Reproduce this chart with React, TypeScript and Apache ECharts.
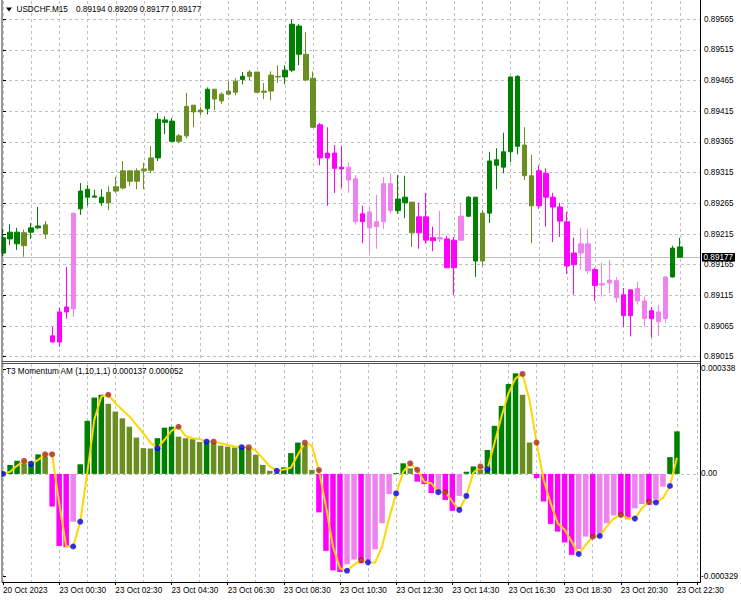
import React, { useEffect, useRef } from 'react';
import * as echarts from 'echarts';

const tickLabels = [
  '20 Oct 2023', '23 Oct 00:30', '23 Oct 02:30', '23 Oct 04:30', '23 Oct 06:30', '23 Oct 08:30',
  '23 Oct 10:30', '23 Oct 12:30', '23 Oct 14:30', '23 Oct 16:30', '23 Oct 18:30', '23 Oct 20:30', '23 Oct 22:30',
];
const priceTicks = [0.89015, 0.89065, 0.89115, 0.89165, 0.89215, 0.89265, 0.89315, 0.89365, 0.89415, 0.89465, 0.89515, 0.89565];
const momTicks = [-0.000329, 0, 0.000338];
const lastPrice = 0.89177;

const open = [
  0.89184, 0.89207, 0.89218, 0.89196, 0.89218, 0.89225, 0.89230, 0.89049, 0.89039, 0.89088,
  0.89093, 0.89256, 0.89288, 0.89275, 0.89275, 0.89266, 0.89285, 0.89290, 0.89318, 0.89301,
  0.89318, 0.89319, 0.89339, 0.89401, 0.89399, 0.89366, 0.89375, 0.89425, 0.89414, 0.89419,
  0.89451, 0.89432, 0.89443, 0.89446, 0.89467, 0.89472, 0.89479, 0.89446, 0.89448, 0.89472,
  0.89471, 0.89482, 0.89554, 0.89508, 0.89469, 0.89393, 0.89339, 0.89347, 0.89321, 0.89324,
  0.89305, 0.89235, 0.89251, 0.89227, 0.89235, 0.89297, 0.89253, 0.89266, 0.89267, 0.89217,
  0.89243, 0.89204, 0.89209, 0.89207, 0.89160, 0.89205, 0.89244, 0.89275, 0.89171, 0.89249,
  0.89327, 0.89324, 0.89349, 0.89472, 0.89360, 0.89310, 0.89261, 0.89314, 0.89275, 0.89259,
  0.89235, 0.89165, 0.89184, 0.89199, 0.89157, 0.89132, 0.89135, 0.89139, 0.89116, 0.89082,
  0.89126, 0.89106, 0.89077, 0.89088, 0.89077, 0.89145, 0.89194,
];
const close = [
  0.89209, 0.89218, 0.89199, 0.89217, 0.89225, 0.89228, 0.89215, 0.89039, 0.89088, 0.89096,
  0.89249, 0.89285, 0.89275, 0.89277, 0.89266, 0.89283, 0.89292, 0.89318, 0.89301, 0.89318,
  0.89321, 0.89339, 0.89402, 0.89397, 0.89366, 0.89375, 0.89423, 0.89414, 0.89417, 0.89451,
  0.89435, 0.89443, 0.89448, 0.89464, 0.89472, 0.89479, 0.89446, 0.89448, 0.89474, 0.89471,
  0.89482, 0.89557, 0.89508, 0.89466, 0.89389, 0.89339, 0.89347, 0.89322, 0.89324, 0.89303,
  0.89235, 0.89248, 0.89225, 0.89235, 0.89297, 0.89253, 0.89272, 0.89275, 0.89217, 0.89243,
  0.89205, 0.89209, 0.89207, 0.89160, 0.89205, 0.89244, 0.89275, 0.89171, 0.89249, 0.89334,
  0.89336, 0.89349, 0.89471, 0.89358, 0.89310, 0.89261, 0.89318, 0.89275, 0.89259, 0.89236,
  0.89163, 0.89184, 0.89199, 0.89155, 0.89131, 0.89134, 0.89140, 0.89111, 0.89082, 0.89124,
  0.89106, 0.89077, 0.89090, 0.89072, 0.89145, 0.89192, 0.89177,
];
const low = [
  0.89179, 0.89197, 0.89189, 0.89178, 0.89207, 0.89223, 0.89207, 0.89038, 0.89031, 0.89077,
  0.89080, 0.89246, 0.89261, 0.89275, 0.89261, 0.89254, 0.89282, 0.89288, 0.89293, 0.89288,
  0.89288, 0.89314, 0.89334, 0.89378, 0.89365, 0.89363, 0.89371, 0.89389, 0.89409, 0.89410,
  0.89417, 0.89427, 0.89441, 0.89441, 0.89459, 0.89466, 0.89445, 0.89435, 0.89433, 0.89461,
  0.89459, 0.89479, 0.89490, 0.89464, 0.89388, 0.89327, 0.89261, 0.89282, 0.89290, 0.89282,
  0.89230, 0.89200, 0.89184, 0.89191, 0.89223, 0.89248, 0.89248, 0.89241, 0.89194, 0.89191,
  0.89200, 0.89187, 0.89202, 0.89160, 0.89116, 0.89205, 0.89243, 0.89145, 0.89163, 0.89233,
  0.89288, 0.89314, 0.89332, 0.89345, 0.89303, 0.89200, 0.89256, 0.89227, 0.89202, 0.89210,
  0.89150, 0.89116, 0.89157, 0.89150, 0.89106, 0.89113, 0.89119, 0.89103, 0.89064, 0.89048,
  0.89100, 0.89064, 0.89046, 0.89049, 0.89070, 0.89144, 0.89177,
];
const high = [
  0.89223, 0.89231, 0.89225, 0.89222, 0.89233, 0.89259, 0.89236, 0.89064, 0.89095, 0.89161,
  0.89249, 0.89298, 0.89295, 0.89287, 0.89288, 0.89293, 0.89308, 0.89334, 0.89318, 0.89322,
  0.89331, 0.89358, 0.89412, 0.89407, 0.89404, 0.89378, 0.89445, 0.89425, 0.89422, 0.89454,
  0.89451, 0.89446, 0.89464, 0.89469, 0.89479, 0.89482, 0.89479, 0.89461, 0.89480, 0.89490,
  0.89490, 0.89565, 0.89557, 0.89544, 0.89480, 0.89396, 0.89389, 0.89360, 0.89358, 0.89332,
  0.89311, 0.89261, 0.89259, 0.89279, 0.89308, 0.89314, 0.89311, 0.89310, 0.89267, 0.89266,
  0.89282, 0.89227, 0.89253, 0.89212, 0.89210, 0.89266, 0.89277, 0.89275, 0.89254, 0.89349,
  0.89355, 0.89380, 0.89471, 0.89474, 0.89389, 0.89344, 0.89327, 0.89322, 0.89282, 0.89266,
  0.89251, 0.89209, 0.89225, 0.89223, 0.89160, 0.89168, 0.89173, 0.89145, 0.89127, 0.89124,
  0.89137, 0.89113, 0.89096, 0.89100, 0.89145, 0.89196, 0.89209,
];
const hist = [
  0.000005, 0.000029, 0.000042, 0.000034, 0.000040, 0.000063, 0.000056, -0.000105, -0.000232, -0.000236,
  -0.000154, 0.000031, 0.000171, 0.000246, 0.000255, 0.000226, 0.000201, 0.000179, 0.000152, 0.000117,
  0.000083, 0.000082, 0.000115, 0.000149, 0.000152, 0.000120, 0.000115, 0.000112, 0.000103, 0.000107,
  0.000100, 0.000091, 0.000088, 0.000085, 0.000088, 0.000087, 0.000062, 0.000029, 0.000010, 0.000004,
  0.000021, 0.000067, 0.000101, 0.000097, 0.000013, -0.000124, -0.000248, -0.000311, -0.000316, -0.000291,
  -0.000276, -0.000288, -0.000278, -0.000243, -0.000159, -0.000065, 0.000003, 0.000034, 0.000018, -0.000025,
  -0.000033, -0.000062, -0.000057, -0.000084, -0.000119, -0.000071, 0.000007, 0.000024, 0.000014, 0.000077,
  0.000155, 0.000219, 0.000290, 0.000324, 0.000255, 0.000101, -0.000014, -0.000089, -0.000161, -0.000186,
  -0.000221, -0.000261, -0.000242, -0.000202, -0.000207, -0.000191, -0.000159, -0.000134, -0.000138, -0.000146,
  -0.000111, -0.000097, -0.000100, -0.000082, -0.000041, 0.000054, 0.000137,
];
const signal = [
  0.000000, 0.000007, 0.000026, 0.000042, 0.000032, 0.000045, 0.000063, 0.000063, -0.000094, -0.000234,
  -0.000234, -0.000154, 0.000002, 0.000174, 0.000249, 0.000255, 0.000228, 0.000206, 0.000185, 0.000158,
  0.000131, 0.000101, 0.000083, 0.000110, 0.000139, 0.000152, 0.000122, 0.000115, 0.000112, 0.000104,
  0.000104, 0.000099, 0.000093, 0.000088, 0.000086, 0.000086, 0.000075, 0.000050, 0.000024, 0.000010,
  0.000014, 0.000020, 0.000062, 0.000101, 0.000090, 0.000012, -0.000105, -0.000234, -0.000304, -0.000312,
  -0.000293, -0.000277, -0.000285, -0.000286, -0.000234, -0.000143, -0.000063, 0.000007, 0.000034, 0.000013,
  -0.000025, -0.000030, -0.000059, -0.000059, -0.000089, -0.000116, -0.000071, 0.000004, 0.000024, 0.000015,
  0.000099, 0.000185, 0.000260, 0.000308, 0.000322, 0.000238, 0.000101, -0.000019, -0.000094, -0.000159,
  -0.000180, -0.000218, -0.000258, -0.000229, -0.000202, -0.000200, -0.000170, -0.000143, -0.000132, -0.000143,
  -0.000144, -0.000111, -0.000089, -0.000092, -0.000078, -0.000039, 0.000052,
];
const redDots = [3, 6, 7, 15, 25, 30, 35, 43, 45, 51, 58, 59, 63, 68, 74, 76, 84, 88, 92];
const blueDots = [0, 4, 10, 11, 22, 29, 34, 39, 49, 52, 56, 62, 65, 66, 69, 82, 85, 90, 93, 95];

const GREEN = '#008000';
const OLIVE = '#6B8E23';
const MAGENTA = '#FF00FF';
const VIOLET = '#EE82EE';
const FONT = 'Liberation Sans';
const FS = 8.2;

const X_MAX = 98.87;

function colorAt(i: number): string {
  const v = hist[i];
  const p = i > 0 ? hist[i - 1] : v;
  if (v >= 0) return v >= p ? GREEN : OLIVE;
  return v < p ? MAGENTA : VIOLET;
}

const dashed = { color: '#C0C0C0', width: 1, type: [3, 3] as any };

function gLine(id: string, x1: number, y1: number, x2: number, y2: number, stroke: string, z = 20) {
  return {
    id, type: 'line', z, silent: true,
    shape: { x1, y1, x2, y2 }, style: { stroke, lineWidth: 1 },
  };
}
function gText(id: string, x: number, y: number, text: string, fill = '#000', z = 20) {
  return {
    id, type: 'text', z, silent: true, x, y,
    style: { text, fill, font: `${FS}px "${FONT}"`, verticalAlign: 'middle', align: 'left' },
  };
}

function baseGraphics(): any[] {
  return [
    { id: 'mask', type: 'rect', z: 19, silent: true, shape: { x: 0, y: 0, width: 1.5, height: 600 }, style: { fill: '#fff' } },
    gLine('bl', 2, 0, 2, 582.5, '#333'),
    gLine('br', 700.5, 0, 700.5, 582.5, '#000'),
    gLine('s1', 2, 361.5, 700.5, 361.5, '#555'),
    gLine('s2', 2, 363.5, 700.5, 363.5, '#555'),
    gLine('bb', 2, 582.5, 700.5, 582.5, '#000'),
    {
      id: 'tri', type: 'polygon', z: 20, silent: true,
      shape: { points: [[6, 7.5], [12, 7.5], [9, 11.5]] }, style: { fill: '#000' },
    },
    gText('t1', 16.5, 9.5, 'USDCHF.M15'),
    gText('t2', 76, 9.5, '0.89194 0.89209 0.89177 0.89177'),
    gText('t3', 6, 371.5, 'T3 Momentum AM (1,10,1,1) 0.000137 0.000052'),
  ];
}

function buildOption(): any {
  const candles = open.map((o, i) => {
    const c = colorAt(i);
    return {
      value: [i, o, close[i], low[i], high[i]],
      itemStyle: { color: c, color0: c, borderColor: c, borderColor0: c, borderWidth: 1 },
    };
  });
  const bars = hist.map((v, i) => ({ value: [i, v], itemStyle: { color: colorAt(i) } }));
  const line = signal.map((v, i) => [i, v]);

  return {
    animation: false,
    backgroundColor: '#fff',
    textStyle: { fontFamily: FONT },
    grid: [
      { left: 3, right: 41, top: 1, height: 360 },
      { left: 3, right: 41, top: 364, height: 218 },
    ],
    xAxis: [
      {
        type: 'value', gridIndex: 0, min: 0, max: X_MAX, interval: 4,
        axisLine: { show: false }, axisTick: { show: false }, axisLabel: { show: false },
        splitLine: { show: true, lineStyle: dashed },
      },
      {
        type: 'value', gridIndex: 1, min: 0, max: X_MAX, interval: 4,
        axisLine: { show: false }, axisTick: { show: false }, axisLabel: { show: false },
        splitLine: { show: true, lineStyle: dashed },
      },
      {
        type: 'value', gridIndex: 1, min: 0, max: X_MAX, interval: 8, position: 'bottom',
        axisLine: { show: false },
        axisTick: { show: true, length: 3, lineStyle: { color: '#000' } },
        splitLine: { show: false },
        axisLabel: {
          show: true, align: 'left', margin: 4, color: '#000', fontSize: FS, fontFamily: FONT,
          formatter: (v: number) => {
            const k = v / 8;
            return Number.isInteger(k) && k < tickLabels.length ? tickLabels[k] : '';
          },
        },
      },
    ],
    yAxis: [
      {
        type: 'value', gridIndex: 0, position: 'right', min: 0.89008, max: 0.895948, scale: true,
        axisLine: { show: false },
        axisTick: { show: true, length: 3, customValues: priceTicks, lineStyle: { color: '#000' } },
        axisLabel: {
          show: true, customValues: priceTicks, margin: 4, color: '#000', fontSize: FS, fontFamily: FONT,
          formatter: (v: number) => v.toFixed(5),
        },
        splitLine: { show: true, lineStyle: dashed },
      },
      {
        type: 'value', gridIndex: 1, position: 'right', min: -0.0003483, max: 0.0003541,
        axisLine: { show: false },
        axisTick: { show: true, length: 3, customValues: momTicks, lineStyle: { color: '#000' } },
        axisLabel: {
          show: true, customValues: momTicks, margin: 4, color: '#000', fontSize: FS, fontFamily: FONT,
          formatter: (v: number) => (v === 0 ? '0.00' : String(v)),
        },
        splitLine: { show: false },
      },
    ],
    series: [
      {
        type: 'candlestick', xAxisIndex: 0, yAxisIndex: 0, barWidth: 5, clip: false, z: 3,
        encode: { x: 0, y: [1, 2, 3, 4] },
        data: candles,
      },
      {
        type: 'bar', xAxisIndex: 1, yAxisIndex: 1, barWidth: 5.5, z: 2,
        data: bars,
        markLine: {
          silent: true, symbol: ['none', 'none'], z: 1,
          lineStyle: dashed,
          label: { show: false },
          emphasis: { disabled: true },
          data: [{ yAxis: 0 }],
        },
      },
      {
        type: 'line', xAxisIndex: 1, yAxisIndex: 1, data: line, symbol: 'none', z: 3,
        lineStyle: { color: '#FFD700', width: 2 },
      },
      {
        type: 'scatter', xAxisIndex: 1, yAxisIndex: 1, z: 4, symbolSize: 6,
        itemStyle: { color: '#A52A2A' },
        data: redDots.map((i) => [i, signal[i]]),
      },
      {
        type: 'scatter', xAxisIndex: 1, yAxisIndex: 1, z: 4, symbolSize: 6,
        itemStyle: { color: '#0000FF' },
        data: blueDots.map((i) => [i, signal[i]]),
      },
    ],
    graphic: baseGraphics(),
  };
}

export default function App() {
  const ref = useRef<HTMLDivElement>(null);
  useEffect(() => {
    if (!ref.current) return;
    const chart = echarts.init(ref.current, null, { renderer: 'svg' });
    chart.setOption(buildOption());
    const py = chart.convertToPixel({ yAxisIndex: 0 }, lastPrice) as number;
    if (typeof py === 'number' && isFinite(py)) {
      const yy = Math.round(py) + 0.5;
      chart.setOption({
        graphic: [
          ...baseGraphics(),
          gLine('pl', 2, yy, 700.5, yy, '#C0C0C0', 1),
          {
            id: 'pbox', type: 'rect', z: 21, silent: true,
            shape: { x: 702, y: yy - 4.5, width: 33, height: 8.5 }, style: { fill: '#000' },
          },
          gText('ptxt', 703.5, yy, lastPrice.toFixed(5), '#fff', 22),
        ],
      });
    }
    return () => chart.dispose();
  }, []);
  return (
    <div
      ref={ref}
      style={{ position: 'fixed', left: 0, top: 0, width: 741, height: 600, background: '#fff' }}
    />
  );
}
